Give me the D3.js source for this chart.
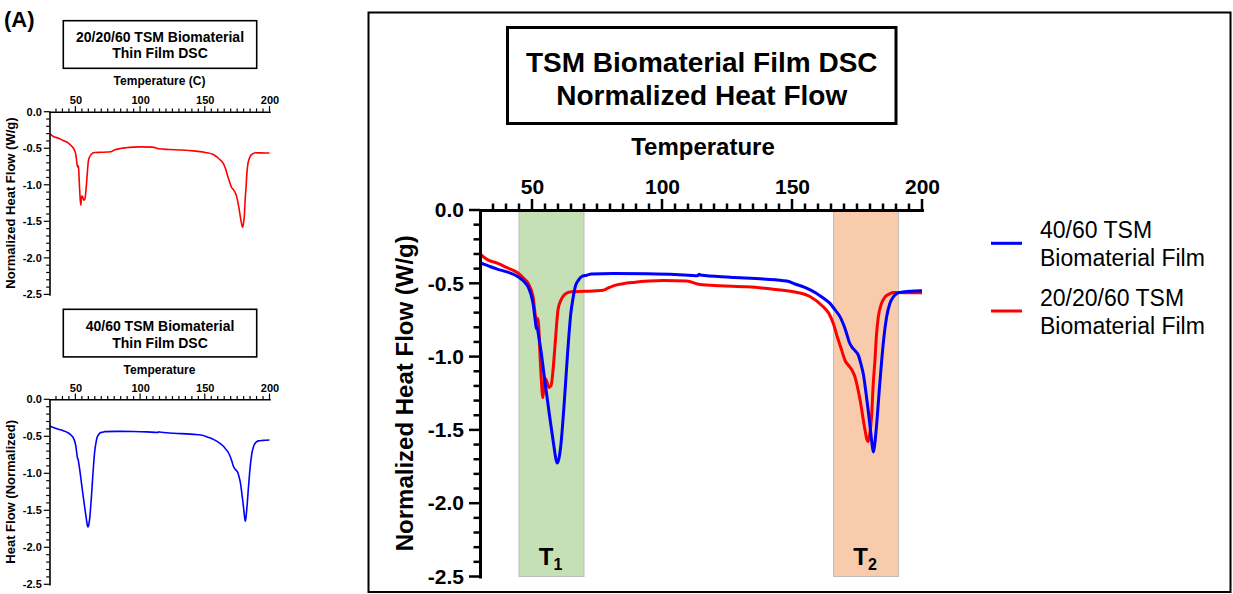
<!DOCTYPE html>
<html>
<head>
<meta charset="utf-8">
<script src="https://cdn.jsdelivr.net/npm/d3@7"></script>
<style>
body { margin: 0; background: #fff; }
svg { display: block; font-family: "Liberation Sans", Arial, Helvetica, sans-serif; }
</style>
</head>
<body>
<svg id="chart" width="1233" height="594"></svg>
<script>
"use strict";

// 20/20/60 TSM film (red)
var RED_T = [30, 33, 36.9, 40, 44.6, 47, 48.5, 50.4, 51.3, 52.0, 52.3, 52.6, 53, 53.6, 54.2, 54.6, 55.1, 55.7,
    56.5, 57.3, 57.7, 58.3, 59, 60, 61, 61.9, 63.5, 65.1, 70.3, 77.4, 79, 81.3, 85, 89, 95, 100.5, 109.5,
    114.6, 122.3, 132.6, 142.8, 150.5, 156.9, 162, 164, 165.9, 167.5, 169.1, 170.5, 171.7, 173, 174.2,
    176.2, 178.1, 178.8, 179.3, 179.9, 180.6, 181.2, 181.9, 182.5, 183.2, 184.4, 185.8, 187.5, 189, 193, 200];
var RED_V = [-0.30, -0.34, -0.364, -0.39, -0.43, -0.47, -0.50, -0.59, -0.72, -0.76, -0.74, -0.80, -0.96, -1.16,
    -1.28, -1.20, -1.15, -1.17, -1.21, -1.20, -1.16, -1.05, -0.89, -0.68, -0.62, -0.59, -0.565, -0.558,
    -0.555, -0.547, -0.535, -0.517, -0.503, -0.494, -0.485, -0.481, -0.485, -0.508, -0.517, -0.524, -0.54,
    -0.558, -0.59, -0.66, -0.70, -0.774, -0.87, -0.956, -1.03, -1.059, -1.09, -1.138, -1.298, -1.503,
    -1.565, -1.58, -1.53, -1.41, -1.20, -1.025, -0.85, -0.729, -0.64, -0.592, -0.572, -0.562, -0.564, -0.565];

// 40/60 TSM film (blue)
var BLUE_T = [30, 33, 36.9, 40, 44.6, 47, 48.5, 50.4, 51.3, 51.7, 52.0, 52.4, 53.6, 54.9, 56.8, 58.5, 59.2,
    59.7, 60.3, 61, 62.3, 63.6, 64.9, 65.8, 66.7, 68, 69, 71, 72.8, 81.3, 94.1, 105, 113.8, 114.2, 114.8,
    126.2, 139, 148, 152, 154.4, 157, 159.5, 162, 164.6, 166.5, 168.5, 170, 171, 172, 173, 174.3, 175.5,
    176.5, 177.4, 178.4, 179.3, 180.3, 180.8, 181.3, 181.8, 182.8, 183.6, 184.5, 185.4, 186.4, 187.6,
    189, 190.2, 191.5, 195, 200];
var BLUE_V = [-0.36, -0.38, -0.405, -0.42, -0.455, -0.49, -0.524, -0.637, -0.76, -0.81, -0.80, -0.84, -0.98,
    -1.16, -1.41, -1.62, -1.70, -1.726, -1.70, -1.62, -1.34, -1.0, -0.71, -0.60, -0.52, -0.475, -0.455,
    -0.445, -0.437, -0.433, -0.435, -0.44, -0.449, -0.438, -0.443, -0.458, -0.471, -0.485, -0.51, -0.524,
    -0.545, -0.569, -0.60, -0.637, -0.68, -0.729, -0.79, -0.842, -0.90, -0.934, -0.96, -0.99, -1.05,
    -1.116, -1.24, -1.366, -1.52, -1.60, -1.65, -1.60, -1.41, -1.22, -1.025, -0.86, -0.729, -0.64,
    -0.592, -0.572, -0.562, -0.555, -0.551];

var X_DOMAIN = [30, 200];
var Y_DOMAIN = [-2.5, 0];
var X_MAJOR = [50, 100, 150, 200];
var Y_MAJOR = [0, -0.5, -1, -1.5, -2, -2.5];

var BAND_LO = [45, 166];
var BAND_HI = [70, 191];
var BAND_SUB = ["1", "2"];
var BAND_FILL = ["#c5e0b4", "#f8cbad"];

var LEGEND_NAMES = [["40/60 TSM", "Biomaterial Film"], ["20/20/60 TSM", "Biomaterial Film"]];
var RED = "#ff0000";
var BLUE = "#0000ff";

var pairs = function(t, v) {
    return t.map(function(d, i) { return [d, v[i]]; });
};
var redData = pairs(RED_T, RED_V);
var blueData = pairs(BLUE_T, BLUE_V);

var svg = d3.select("#chart");

var minorX = d3.range(35, 201, 5).filter(function(d) { return X_MAJOR.indexOf(d) < 0; });
var minorY = d3.range(0, 26).map(function(d) { return -d / 10; })
    .filter(function(d) { return Math.abs(d * 2 - Math.round(d * 2)) > 1e-6; });

var fmtY = function(d) { return d.toFixed(1).replace("\u2212", "-"); };

var axes = function(g, x, y, o) {
    var top = y(0);
    var left = x(X_DOMAIN[0]);
    // tick marks
    var tg = g.append("g").attr("stroke", "#000").attr("stroke-width", o.tickW);
    tg.selectAll(null).data(minorX.concat(X_MAJOR)).enter().append("line")
        .attr("x1", function(d) { return x(d); }).attr("x2", function(d) { return x(d); })
        .attr("y1", top)
        .attr("y2", function(d) { return top - (X_MAJOR.indexOf(d) < 0 ? o.minor : o.major); });
    tg.selectAll(null).data(minorY.concat(Y_MAJOR)).enter().append("line")
        .attr("y1", function(d) { return y(d); }).attr("y2", function(d) { return y(d); })
        .attr("x1", left)
        .attr("x2", function(d) { return left - (Y_MAJOR.indexOf(d) < 0 ? o.minor : o.major); });
    // axis lines and labels
    var gx = g.append("g").attr("transform", "translate(0," + top + ")")
        .call(d3.axisTop(x).tickValues(X_MAJOR).tickSize(0).tickPadding(o.major + o.padX));
    var gy = g.append("g").attr("transform", "translate(" + left + ",0)")
        .call(d3.axisLeft(y).tickValues(Y_MAJOR).tickSize(0)
            .tickPadding(o.major + o.padY).tickFormat(fmtY));
    [gx, gy].forEach(function(a) {
        a.selectAll(".domain").attr("stroke", "#000").attr("stroke-width", o.axisW)
            .attr("stroke-linecap", "square");
        a.selectAll("text").attr("font-family", null).attr("font-size", o.font)
            .attr("font-weight", "bold").attr("fill", "#000");
    });
};

var line = function(x, y) {
    return d3.line()
        .x(function(d) { return x(d[0]); })
        .y(function(d) { return y(d[1]); })
        .curve(d3.curveMonotoneX);
};

var titleBox = function(x0, y0, w, h, sw, lines, size, baselines) {
    svg.append("rect").attr("x", x0).attr("y", y0).attr("width", w).attr("height", h)
        .attr("fill", "#fff").attr("stroke", "#000").attr("stroke-width", sw);
    lines.forEach(function(t, i) {
        svg.append("text").attr("x", x0 + w / 2).attr("y", baselines[i])
            .attr("text-anchor", "middle").attr("font-size", size).attr("font-weight", "bold")
            .text(t);
    });
};

// ---- small panels ----
var small = function(yTop, yBot, data, color, xTitle, yTitle, boxY, titleLines, tBase, xtBase) {
    var x = d3.scaleLinear().domain(X_DOMAIN).range([49.5, 269.5]);
    var y = d3.scaleLinear().domain(Y_DOMAIN).range([yBot, yTop]);
    var g = svg.append("g");
    g.append("path").datum(data).attr("fill", "none").attr("stroke", color)
        .attr("stroke-width", 1.6).attr("d", line(x, y));
    axes(g, x, y, {minor: 3.3, major: 5.7, padX: 2, padY: 2, axisW: 1.6, tickW: 1.2, font: 11});
    titleBox(63.3, boxY, 193.4, 47.6, 1.6, titleLines, 14, tBase);
    svg.append("text").attr("x", 159.5).attr("y", xtBase).attr("text-anchor", "middle")
        .attr("font-size", 12).attr("font-weight", "bold").text(xTitle);
    svg.append("text").attr("transform", "translate(15," + ((yTop + yBot) / 2) + ") rotate(-90)")
        .attr("text-anchor", "middle").attr("font-size", 13).attr("font-weight", "bold").text(yTitle);
};

svg.append("text").attr("x", 4).attr("y", 27).attr("font-size", 22).attr("font-weight", "bold").text("(A)");

small(111.7, 294.4, redData, RED, "Temperature (C)", "Normalized Heat Flow (W/g)",
    20.7, ["20/20/60 TSM Biomaterial", "Thin Film DSC"], [41.7, 58.3], 84.5);
small(399.3, 584.3, blueData, BLUE, "Temperature", "Heat Flow (Normalized)",
    309.3, ["40/60 TSM Biomaterial", "Thin Film DSC"], [331, 347.7], 373.5);

// ---- main panel ----
svg.append("rect").attr("x", 368.5).attr("y", 12.5).attr("width", 862).attr("height", 579.5)
    .attr("fill", "none").attr("stroke", "#000").attr("stroke-width", 2);

var X = d3.scaleLinear().domain(X_DOMAIN).range([480, 922]);
var Y = d3.scaleLinear().domain(Y_DOMAIN).range([576.5, 210]);
var main = svg.append("g");

BAND_LO.forEach(function(lo, i) {
    main.append("rect").attr("x", X(lo)).attr("y", Y(0)).attr("width", X(BAND_HI[i]) - X(lo))
        .attr("height", Y(-2.5) - Y(0)).attr("fill", BAND_FILL[i])
        .attr("stroke", "#bdbdbd").attr("stroke-width", 1);
    var t = main.append("text").attr("x", (X(lo) + X(BAND_HI[i])) / 2 - 1).attr("y", 565)
        .attr("text-anchor", "middle").attr("font-size", 24).attr("font-weight", "bold");
    t.append("tspan").text("T");
    t.append("tspan").attr("font-size", 16).attr("dy", 5).text(BAND_SUB[i]);
});

main.append("path").datum(redData).attr("fill", "none").attr("stroke", RED)
    .attr("stroke-width", 3).attr("stroke-linejoin", "round").attr("d", line(X, Y));
main.append("path").datum(blueData).attr("fill", "none").attr("stroke", BLUE)
    .attr("stroke-width", 3).attr("stroke-linejoin", "round").attr("d", line(X, Y));

axes(main, X, Y, {minor: 6.5, major: 11, padX: 5, padY: 5, axisW: 3, tickW: 2.5, font: 21});

titleBox(507.5, 27.5, 388.5, 96, 3, ["TSM Biomaterial Film DSC", "Normalized Heat Flow"], 28, [71.5, 105]);

svg.append("text").attr("x", 703).attr("y", 155).attr("text-anchor", "middle")
    .attr("font-size", 24).attr("font-weight", "bold").text("Temperature");
svg.append("text").attr("transform", "translate(413," + ((Y(0) + Y(-2.5)) / 2) + ") rotate(-90)")
    .attr("text-anchor", "middle").attr("font-size", 24).attr("font-weight", "bold")
    .text("Normalized Heat Flow (W/g)");

// legend
var LEG_Y = [243.3, 311];
var LEG_BASE = [[238, 266], [306, 334]];
[BLUE, RED].forEach(function(c, i) {
    svg.append("line").attr("x1", 991).attr("x2", 1022).attr("y1", LEG_Y[i]).attr("y2", LEG_Y[i])
        .attr("stroke", c).attr("stroke-width", 3);
    LEGEND_NAMES[i].forEach(function(s, j) {
        svg.append("text").attr("x", 1040).attr("y", LEG_BASE[i][j]).attr("font-size", 23).text(s);
    });
});
</script>
</body>
</html>
